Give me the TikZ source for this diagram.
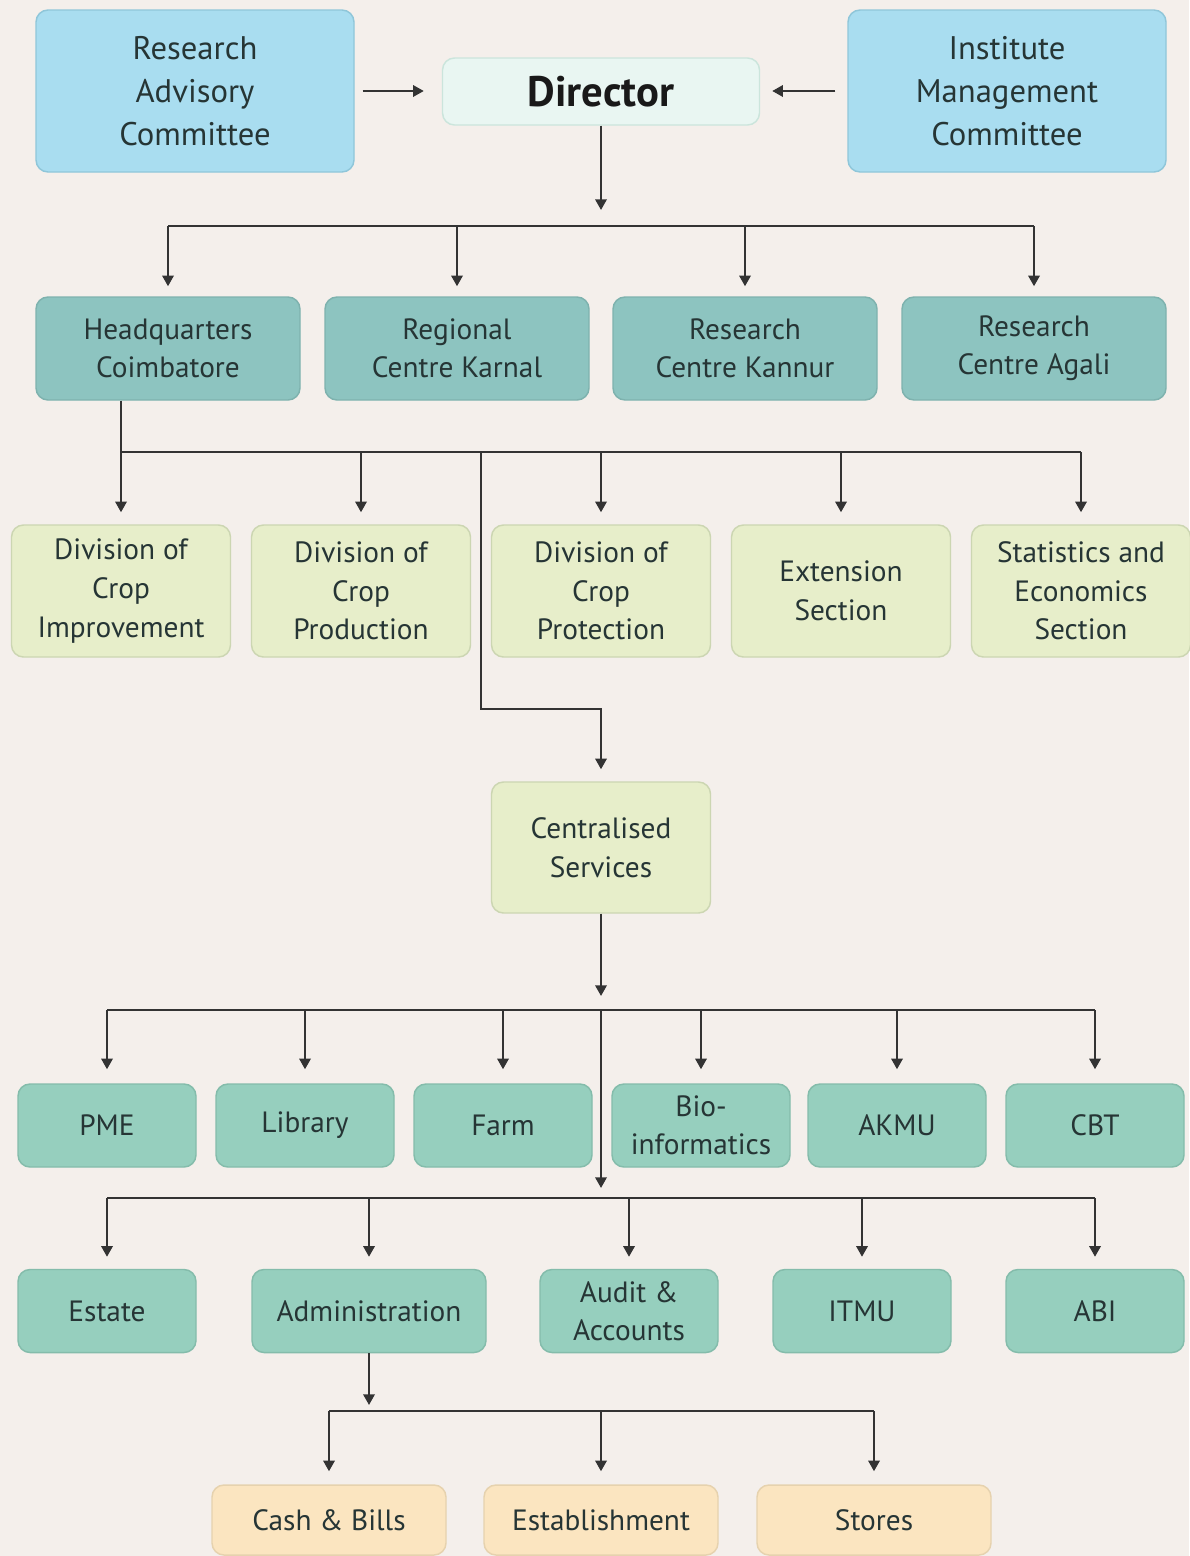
\documentclass[tikz,border=0pt]{standalone}
\usepackage{fontspec}
\setmainfont{PT Sans}
\usetikzlibrary{arrows.meta}
\definecolor{bg}{HTML}{F4EFEB}
\definecolor{txt}{HTML}{263535}
\definecolor{cblue}{HTML}{A9DDF0}
\definecolor{cblueB}{HTML}{8FC6D9}
\definecolor{dirF}{HTML}{E9F6F2}
\definecolor{dirB}{HTML}{CBE5DC}
\definecolor{cenF}{HTML}{8DC4C0}
\definecolor{cenB}{HTML}{7EB2AE}
\definecolor{divF}{HTML}{E7EECA}
\definecolor{divB}{HTML}{CCD6B2}
\definecolor{serF}{HTML}{96CFBE}
\definecolor{serB}{HTML}{84BCAB}
\definecolor{botF}{HTML}{FBE5C0}
\definecolor{botB}{HTML}{E6D2AE}
\definecolor{lnC}{HTML}{333333}
\tikzset{
  box/.style={rectangle, rounded corners=9pt, line width=1.1pt, align=center, inner sep=0pt, text=txt, font=\fontsize{22}{28.5}\selectfont},
  wh/.style 2 args={minimum width=#1*0.75pt, minimum height=#2*0.75pt},
  committee/.style={box, fill=cblue, draw=cblueB, wh={318}{162}, font=\fontsize{24.5}{32}\selectfont},
  director/.style={box, fill=dirF, draw=dirB, wh={317}{67}, text=black!90, font=\fontsize{32}{34}\selectfont\bfseries},
  centre/.style={box, fill=cenF, draw=cenB, wh={264}{103}},
  division/.style={box, fill=divF, draw=divB, wh={219}{132}, font=\fontsize{22}{29}\selectfont},
  service/.style={box, fill=serF, draw=serB, wh={178}{83}},
  botbox/.style={box, fill=botF, draw=botB, wh={234}{70}},
  ln/.style={draw=lnC, line width=1.7pt},
  arr/.style={ln, -{Triangle[width=8.5pt,length=8pt]}}
}
\begin{document}
\begin{tikzpicture}[x=0.75pt,y=-0.75pt]
\fill[bg] (0,0) rectangle (1189,1556);
\useasboundingbox (0,0) rectangle (1189,1556);

% top row
\node[committee] (rac) at (195,91) {Research\\Advisory\\Committee};
\node[director] (dir) at (601,91.5) {Director};
\node[committee] (imc) at (1007,91) {Institute\\Management\\Committee};

% centres
\node[centre] (hq) at (168,348.5) {Headquarters\\Coimbatore};
\node[centre] (rck) at (457,348.5) {Regional\\Centre Karnal};
\node[centre] (rckn) at (745,348.5) {Research\\Centre Kannur};
\node[centre] (rca) at (1034,348.5) {Research\\Centre Agali};

% divisions
\node[division] (d1) at (121,591) {Division of\\Crop\\Improvement};
\node[division] (d2) at (361,591) {Division of\\Crop\\Production};
\node[division] (d3) at (601,591) {Division of\\Crop\\Protection};
\node[division] (d4) at (841,591) {Extension\\Section};
\node[division] (d5) at (1081,591) {Statistics and\\Economics\\Section};

\node[division, wh={219}{131}] (cs) at (601,847.5) {Centralised\\Services};

% services
\node[service] (pme) at (107,1125.5) {PME};
\node[service] (lib) at (305,1125.5) {Library};
\node[service] (farm) at (503,1125.5) {Farm};
\node[service] (bio) at (701,1125.5) {Bio-\\informatics};
\node[service] (akmu) at (897,1125.5) {AKMU};
\node[service] (cbt) at (1095,1125.5) {CBT};

\node[service] (estate) at (107,1311) {Estate};
\node[service, wh={234}{83}] (admin) at (369,1311) {Administration};
\node[service] (audit) at (629,1311) {Audit \&\\Accounts};
\node[service] (itmu) at (862,1311) {ITMU};
\node[service] (abi) at (1095,1311) {ABI};

\node[botbox] (cash) at (329,1520) {Cash \& Bills};
\node[botbox] (est) at (601,1520) {Establishment};
\node[botbox] (stores) at (874,1520) {Stores};

% connectors
\draw[arr, shorten <=6pt, shorten >=13.5pt] (rac.east) -- (rac.east -| dir.west);
\draw[arr, shorten <=9pt, shorten >=9pt] (imc.west) -- (imc.west -| dir.east);

\coordinate (b1) at (601,226);
\draw[arr, shorten >=12pt] (dir.south) -- (b1);
\draw[ln] (hq.north |- b1) -- (rca.north |- b1);
\foreach \n in {hq,rck,rckn,rca} \draw[arr, shorten >=7.5pt] (\n.north |- b1) -- (\n.north);

\coordinate (b2) at (121,452);
\draw[ln] (hq.south -| b2) -- (b2) -- (d5.north |- b2);
\foreach \n in {d1,d2,d3,d4,d5} \draw[arr, shorten >=9pt] (\n.north |- b2) -- (\n.north);
\coordinate (b2c) at (481,452);
\coordinate (k1) at (481,709);
\draw[arr, shorten >=9pt] (b2c) -- (k1) -- (k1 -| cs.north) -- (cs.north);

\coordinate (b3) at (601,1010);
\draw[arr, shorten >=10.5pt] (cs.south) -- (b3);
\draw[ln] (pme.north |- b3) -- (cbt.north |- b3);
\foreach \n in {pme,lib,farm,bio,akmu,cbt} \draw[arr, shorten >=10.5pt] (\n.north |- b3) -- (\n.north);

\coordinate (b4) at (601,1198);
\draw[arr, shorten >=7.5pt] (b3) -- (b4);
\draw[ln] (estate.north |- b4) -- (abi.north |- b4);
\foreach \n in {estate,admin,audit,itmu,abi} \draw[arr, shorten >=9pt] (\n.north |- b4) -- (\n.north);

\coordinate (b5) at (369,1411);
\draw[arr, shorten >=4.5pt] (admin.south) -- (b5);
\draw[ln] (cash.north |- b5) -- (stores.north |- b5);
\foreach \n in {cash,est,stores} \draw[arr, shorten >=9.75pt] (\n.north |- b5) -- (\n.north);
\end{tikzpicture}
\end{document}
